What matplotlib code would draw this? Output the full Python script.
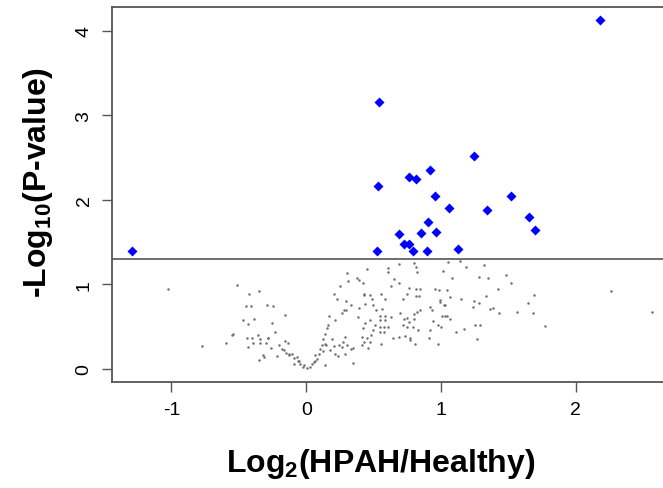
import matplotlib
matplotlib.use("Agg")
import matplotlib.pyplot as plt

plt.rcParams["font.family"] = ["Liberation Sans", "DejaVu Sans"]
plt.rcParams["mathtext.fontset"] = "custom"
plt.rcParams["mathtext.rm"] = "Liberation Sans"
plt.rcParams["mathtext.bf"] = "Liberation Sans:bold"
plt.rcParams["axes.unicode_minus"] = False

# significant proteins (blue diamonds)
sig_x = [2.18, -1.29, 0.537, 1.247, 0.92, 0.762, 0.812, 0.532, 0.955, 1.517,
         1.062, 1.344, 1.65, 0.90, 1.693, 0.963, 0.849, 0.69, 0.725, 0.765,
         0.522, 0.792, 0.893, 1.126]
sig_y = [4.12, 1.395, 3.15, 2.52, 2.35, 2.27, 2.25, 2.16, 2.04, 2.04,
         1.90, 1.88, 1.79, 1.74, 1.64, 1.62, 1.61, 1.59, 1.48, 1.48,
         1.395, 1.395, 1.395, 1.415]

# non-significant proteins (grey dots)
ns_x = [-1.022, -0.51, -0.425, -0.349, -0.448, -0.413, -0.292, -0.47, -0.384, -0.433,
        -0.552, -0.54, -0.44, -0.403, -0.356, -0.341, -0.282, -0.398, -0.341, -0.295,
        -0.774, -0.596, -0.433, -0.322, -0.31, -0.347,
        -0.25, -0.255, -0.156, -0.228, -0.26, -0.205, -0.156, -0.136, -0.168, -0.151,
        -0.126, -0.213, -0.094, -0.069, -0.062, -0.094, -0.045, -0.027, 0.005, 0.025,
        0.042, 0.062, 0.079, 0.067, 0.092, 0.136, 0.121, 0.136, 0.149, 0.136,
        0.153, 0.161, 0.166, 0.19, 0.178, 0.203, 0.215, 0.235, 0.215, 0.203,
        0.228, 0.252, 0.265, 0.282, 0.297, 0.297, 0.24, 0.265, 0.27, 0.29,
        0.302, 0.29, 0.302, 0.31, 0.334, 0.334, 0.347, 0.344, 0.384, 0.388,
        0.379, 0.388, 0.418, 0.413, 0.413, 0.426,
        -0.18, -0.106, -0.05, -0.02, 0.054, 0.104, 0.116, 0.124, -0.131, -0.287,
        0.45, 0.603, 0.603, 0.69, 0.80, 0.817, 0.82, 1.049, 1.015, 1.082,
        0.653, 0.685, 0.629, 0.43, 0.475, 0.488, 0.557, 0.582, 0.438, 0.495,
        0.52, 0.562, 0.76, 0.817, 0.841, 0.747, 0.817, 0.834, 0.718, 0.958,
        0.983, 1.044, 1.064, 0.995, 0.99, 1.02, 1.032, 0.92, 0.933, 0.841,
        0.82, 0.797, 0.544, 0.582, 0.55, 0.586, 0.631, 0.47, 0.693, 0.723,
        0.747, 0.797, 0.76, 0.715, 0.747, 0.792, 0.512, 0.544, 0.574, 0.604,
        0.438, 0.42, 0.495, 0.544, 0.574, 0.483, 0.45, 0.426, 0.475, 0.455,
        0.557, 0.643, 0.685, 0.73, 0.772, 0.767, 0.809, 0.829, 0.916, 0.908,
        0.978, 0.94, 0.978, 1.0, 1.007, 1.032, 1.044, 1.064, 1.114, 1.14,
        1.186, 1.316, 1.284, 1.349, 1.483, 1.52, 1.42, 1.336, 1.15, 1.242,
        1.279, 1.24, 1.366, 1.383, 1.433, 1.561, 1.646, 1.69, 1.685, 1.774,
        1.25, 1.292, 1.168, 1.267, 2.26, 2.564]
ns_y = [0.94, 0.99, 0.89, 0.92, 0.74, 0.74, 0.75, 0.58, 0.59, 0.53,
        0.40, 0.41, 0.37, 0.36, 0.40, 0.35, 0.37, 0.31, 0.31, 0.30,
        0.27, 0.30, 0.26, 0.16, 0.14, 0.11,
        0.74, 0.54, 0.64, 0.43, 0.25, 0.28, 0.33, 0.31, 0.22, 0.19,
        0.17, 0.15, 0.13, 0.14, 0.09, 0.06, 0.055, 0.02, 0.01, 0.02,
        0.055, 0.095, 0.12, 0.16, 0.17, 0.05, 0.21, 0.29, 0.28, 0.41,
        0.48, 0.52, 0.63, 0.35, 0.22, 0.27, 0.18, 0.15, 0.58, 0.88,
        0.83, 0.98, 0.66, 0.69, 0.69, 0.80, 0.28, 0.26, 0.32, 0.38,
        0.28, 0.18, 1.13, 1.04, 0.75, 0.24, 0.25, 0.07, 0.61, 0.72,
        1.08, 1.05, 1.02, 0.38, 0.28, 0.87,
        0.24, 0.18, 0.09, 0.04, 0.08, 0.24, 0.28, 0.35, 0.165, 0.36,
        1.18, 1.19, 1.15, 1.24, 1.25, 1.21, 1.15, 1.26, 1.155, 1.08,
        1.06, 1.02, 0.98, 0.88, 0.87, 0.83, 0.89, 0.82, 0.77, 0.76,
        0.69, 0.71, 0.96, 0.95, 0.95, 0.88, 0.86, 0.86, 0.82, 0.95,
        0.93, 0.93, 0.85, 0.81, 0.79, 0.75, 0.75, 0.73, 0.70, 0.70,
        0.67, 0.65, 0.63, 0.62, 0.58, 0.58, 0.61, 0.58, 0.66, 0.59,
        0.60, 0.59, 0.55, 0.52, 0.50, 0.50, 0.52, 0.50, 0.49, 0.50,
        0.54, 0.48, 0.46, 0.44, 0.44, 0.40, 0.37, 0.32, 0.32, 0.25,
        0.29, 0.36, 0.38, 0.39, 0.37, 0.34, 0.29, 0.46, 0.46, 0.36,
        0.29, 0.56, 0.52, 0.50, 0.63, 0.62, 0.63, 0.59, 0.43, 1.28,
        1.21, 1.23, 1.09, 1.08, 1.11, 1.02, 0.95, 0.86, 0.82, 0.80,
        0.78, 0.73, 0.71, 0.72, 0.66, 0.67, 0.78, 0.87, 0.66, 0.51,
        0.52, 0.52, 0.47, 0.35, 0.92, 0.67]

threshold = 1.30

fig = plt.figure(figsize=(6.63, 4.89), dpi=100)
ax = fig.add_axes([0.169, 0.217, 0.842, 0.767])

ax.axhline(threshold, color="#555555", lw=1.2, zorder=1)
ax.plot(ns_x, ns_y, "o", ms=1.8, color="#707070", mec="none", zorder=2)
ax.plot(sig_x, sig_y, "D", ms=4.6, color="#0000ff", mec="none", zorder=3)

ax.set_xlim(-1.44, 2.70)
ax.set_ylim(-0.154, 4.28)
ax.set_xticks([-1, 0, 1, 2])
ax.set_yticks([0, 1, 2, 3, 4])
ax.set_yticklabels(["0", "1", "2", "3", "4"], rotation=90, va="center")

for s in ax.spines.values():
    s.set_color("#555555")
    s.set_linewidth(1.3)
ax.tick_params(length=7, width=1, color="#555555", labelsize=14, pad=7)

ax.set_xlabel("Log$_{\\mathbf{2}}$(HPAH/Healthy)", fontsize=23, fontweight="bold", labelpad=20)
ax.set_ylabel("-Log$_{\\mathbf{10}}$(P-value)", fontsize=23, fontweight="bold", labelpad=15)
ax.xaxis.label.set_x(0.481)
ax.yaxis.label.set_y(0.533)

fig.savefig("out.png", dpi=100)
